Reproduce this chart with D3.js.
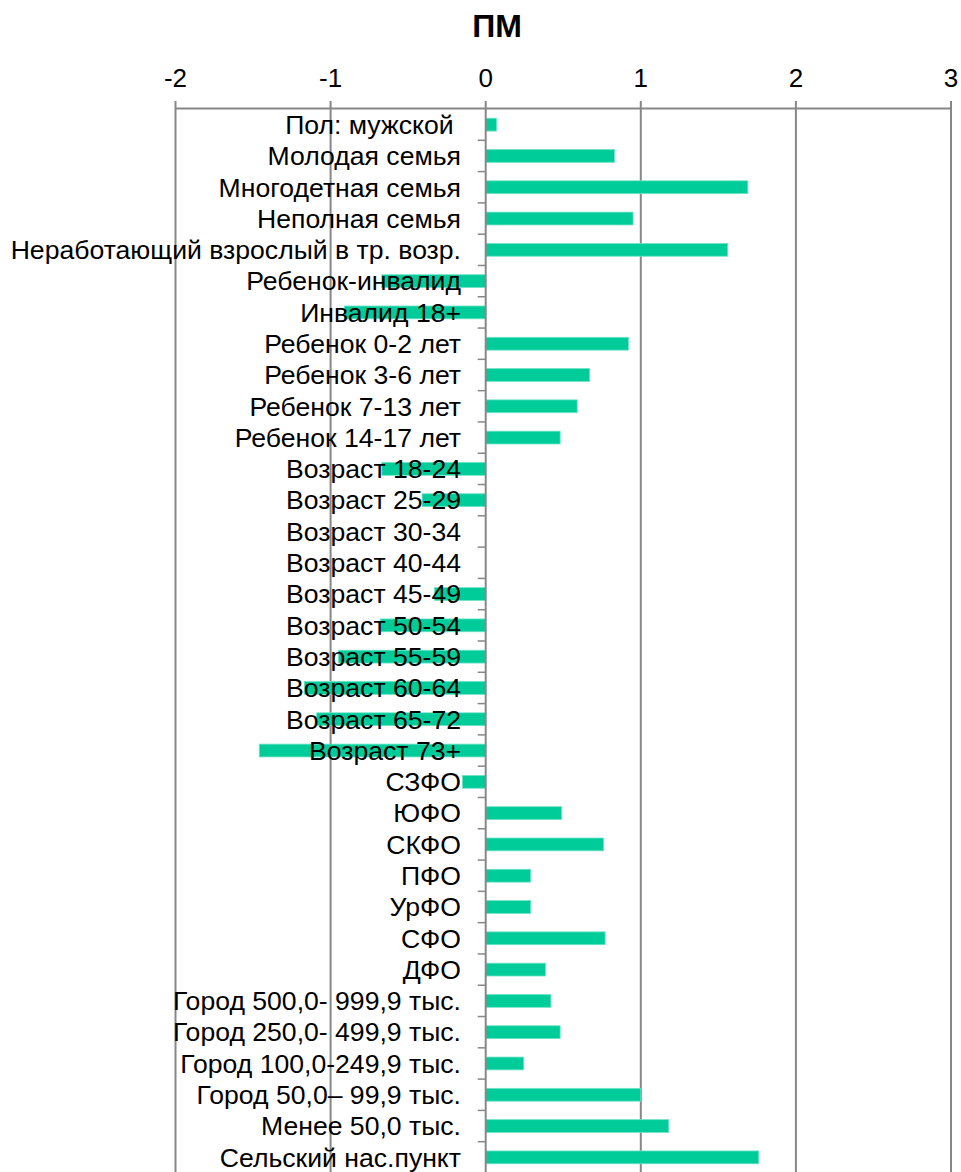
<!DOCTYPE html>
<html>
<head>
<meta charset="utf-8">
<script src="https://cdn.jsdelivr.net/npm/d3@7"></script>
<style>
    body { margin: 0; background: #fff; }
    svg { display: block; font-family: "Liberation Sans", Arial, sans-serif; }
    .cat-label { font-size: 26.6px; fill: #000; white-space: pre; }
    .tick-label { font-size: 26px; fill: #000; }
    .title { font-size: 32px; font-weight: bold; fill: #000; }
</style>
</head>
<body>
<div id="chart"></div>
<script>
// Categories, top to bottom
const categories = [
    'Пол: мужской ', 'Молодая семья', 'Многодетная семья', 'Неполная семья',
    'Неработающий взрослый в тр. возр.', 'Ребенок-инвалид', 'Инвалид 18+',
    'Ребенок 0-2 лет', 'Ребенок 3-6 лет', 'Ребенок 7-13 лет', 'Ребенок 14-17 лет',
    'Возраст 18-24', 'Возраст 25-29', 'Возраст 30-34', 'Возраст 40-44',
    'Возраст 45-49', 'Возраст 50-54', 'Возраст 55-59', 'Возраст 60-64',
    'Возраст 65-72', 'Возраст 73+',
    'СЗФО', 'ЮФО', 'СКФО', 'ПФО', 'УрФО', 'СФО', 'ДФО',
    'Город 500,0- 999,9 тыс.', 'Город 250,0- 499,9 тыс.', 'Город 100,0-249,9 тыс.',
    'Город 50,0– 99,9 тыс.', 'Менее 50,0 тыс.', 'Сельский нас.пункт'
];

const values = [
    0.07, 0.83, 1.69, 0.95,
    1.56, -0.67, -0.91,
    0.92, 0.67, 0.59, 0.48,
    -0.67, -0.41, 0, 0,
    -0.33, -0.68, -0.95, -1.17,
    -1.09, -1.46,
    -0.15, 0.49, 0.76, 0.29, 0.29, 0.77, 0.385,
    0.42, 0.48, 0.245,
    1.0, 1.18, 1.76
];

const xTicks = [-2, -1, 0, 1, 2, 3];
const title = 'ПМ';

const width = 961, height = 1172;
const gridColor = '#878787';
const barColor = '#00cc99';

const svg = d3.select('#chart').append('svg')
    .attr('width', width)
    .attr('height', height);

const x = d3.scaleLinear().domain([-2, 3]).range([175.5, 951]);
const y = d3.scaleBand()
    .domain(categories)
    .range([109, 109 + 30.4 * 35])
    .paddingInner(0.59)
    .paddingOuter(0.295);

// Title
svg.append('text')
    .attr('class', 'title')
    .attr('x', 497)
    .attr('y', 37)
    .attr('text-anchor', 'middle')
    .text(title);

// Top axis (line + ticks + labels)
const axisY = 108.5;
svg.append('line')
    .attr('x1', x(-2)).attr('x2', x(3))
    .attr('y1', axisY).attr('y2', axisY)
    .attr('stroke', gridColor).attr('stroke-width', 2);

svg.selectAll('.tick-label')
    .data(xTicks)
    .join('text')
    .attr('class', 'tick-label')
    .attr('x', d => x(d))
    .attr('y', 87)
    .attr('text-anchor', 'middle')
    .text(d => d);

// Gridlines (except the zero line, drawn later over bars)
svg.selectAll('.grid')
    .data(xTicks.filter(d => d !== 0))
    .join('line')
    .attr('class', 'grid')
    .attr('x1', d => x(d)).attr('x2', d => x(d))
    .attr('y1', 101).attr('y2', height)
    .attr('stroke', gridColor).attr('stroke-width', 2);

// Tick above axis at zero
svg.append('line')
    .attr('x1', x(0)).attr('x2', x(0))
    .attr('y1', 101).attr('y2', axisY)
    .attr('stroke', gridColor).attr('stroke-width', 2);

// Bars
svg.selectAll('.bar')
    .data(categories.map((c, i) => ({ name: c, value: values[i] })))
    .join('rect')
    .attr('class', 'bar')
    .attr('x', d => x(Math.min(0, d.value)))
    .attr('y', d => y(d.name))
    .attr('width', d => Math.abs(x(d.value) - x(0)))
    .attr('height', y.bandwidth())
    .attr('fill', barColor)
    .attr('stroke', d => d.value === 0 ? 'none' : '#6fe3c6')
    .attr('stroke-width', 0.8);

// Zero axis with small ticks at band boundaries
svg.append('line')
    .attr('x1', x(0)).attr('x2', x(0))
    .attr('y1', axisY).attr('y2', height)
    .attr('stroke', gridColor).attr('stroke-width', 2);

const step = y.step();
svg.selectAll('.ytick')
    .data(d3.range(1, categories.length))
    .join('line')
    .attr('class', 'ytick')
    .attr('x1', x(0) - 8).attr('x2', x(0))
    .attr('y1', i => 109 + i * step).attr('y2', i => 109 + i * step)
    .attr('stroke', gridColor).attr('stroke-width', 1.5);

// Category labels (on top)
svg.selectAll('.cat-label')
    .data(categories)
    .join('text')
    .attr('class', 'cat-label')
    .attr('x', 461)
    .attr('y', d => y(d) + y.bandwidth() / 2)
    .attr('dy', '0.35em')
    .attr('text-anchor', 'end')
    .text(d => d);
</script>
</body>
</html>
